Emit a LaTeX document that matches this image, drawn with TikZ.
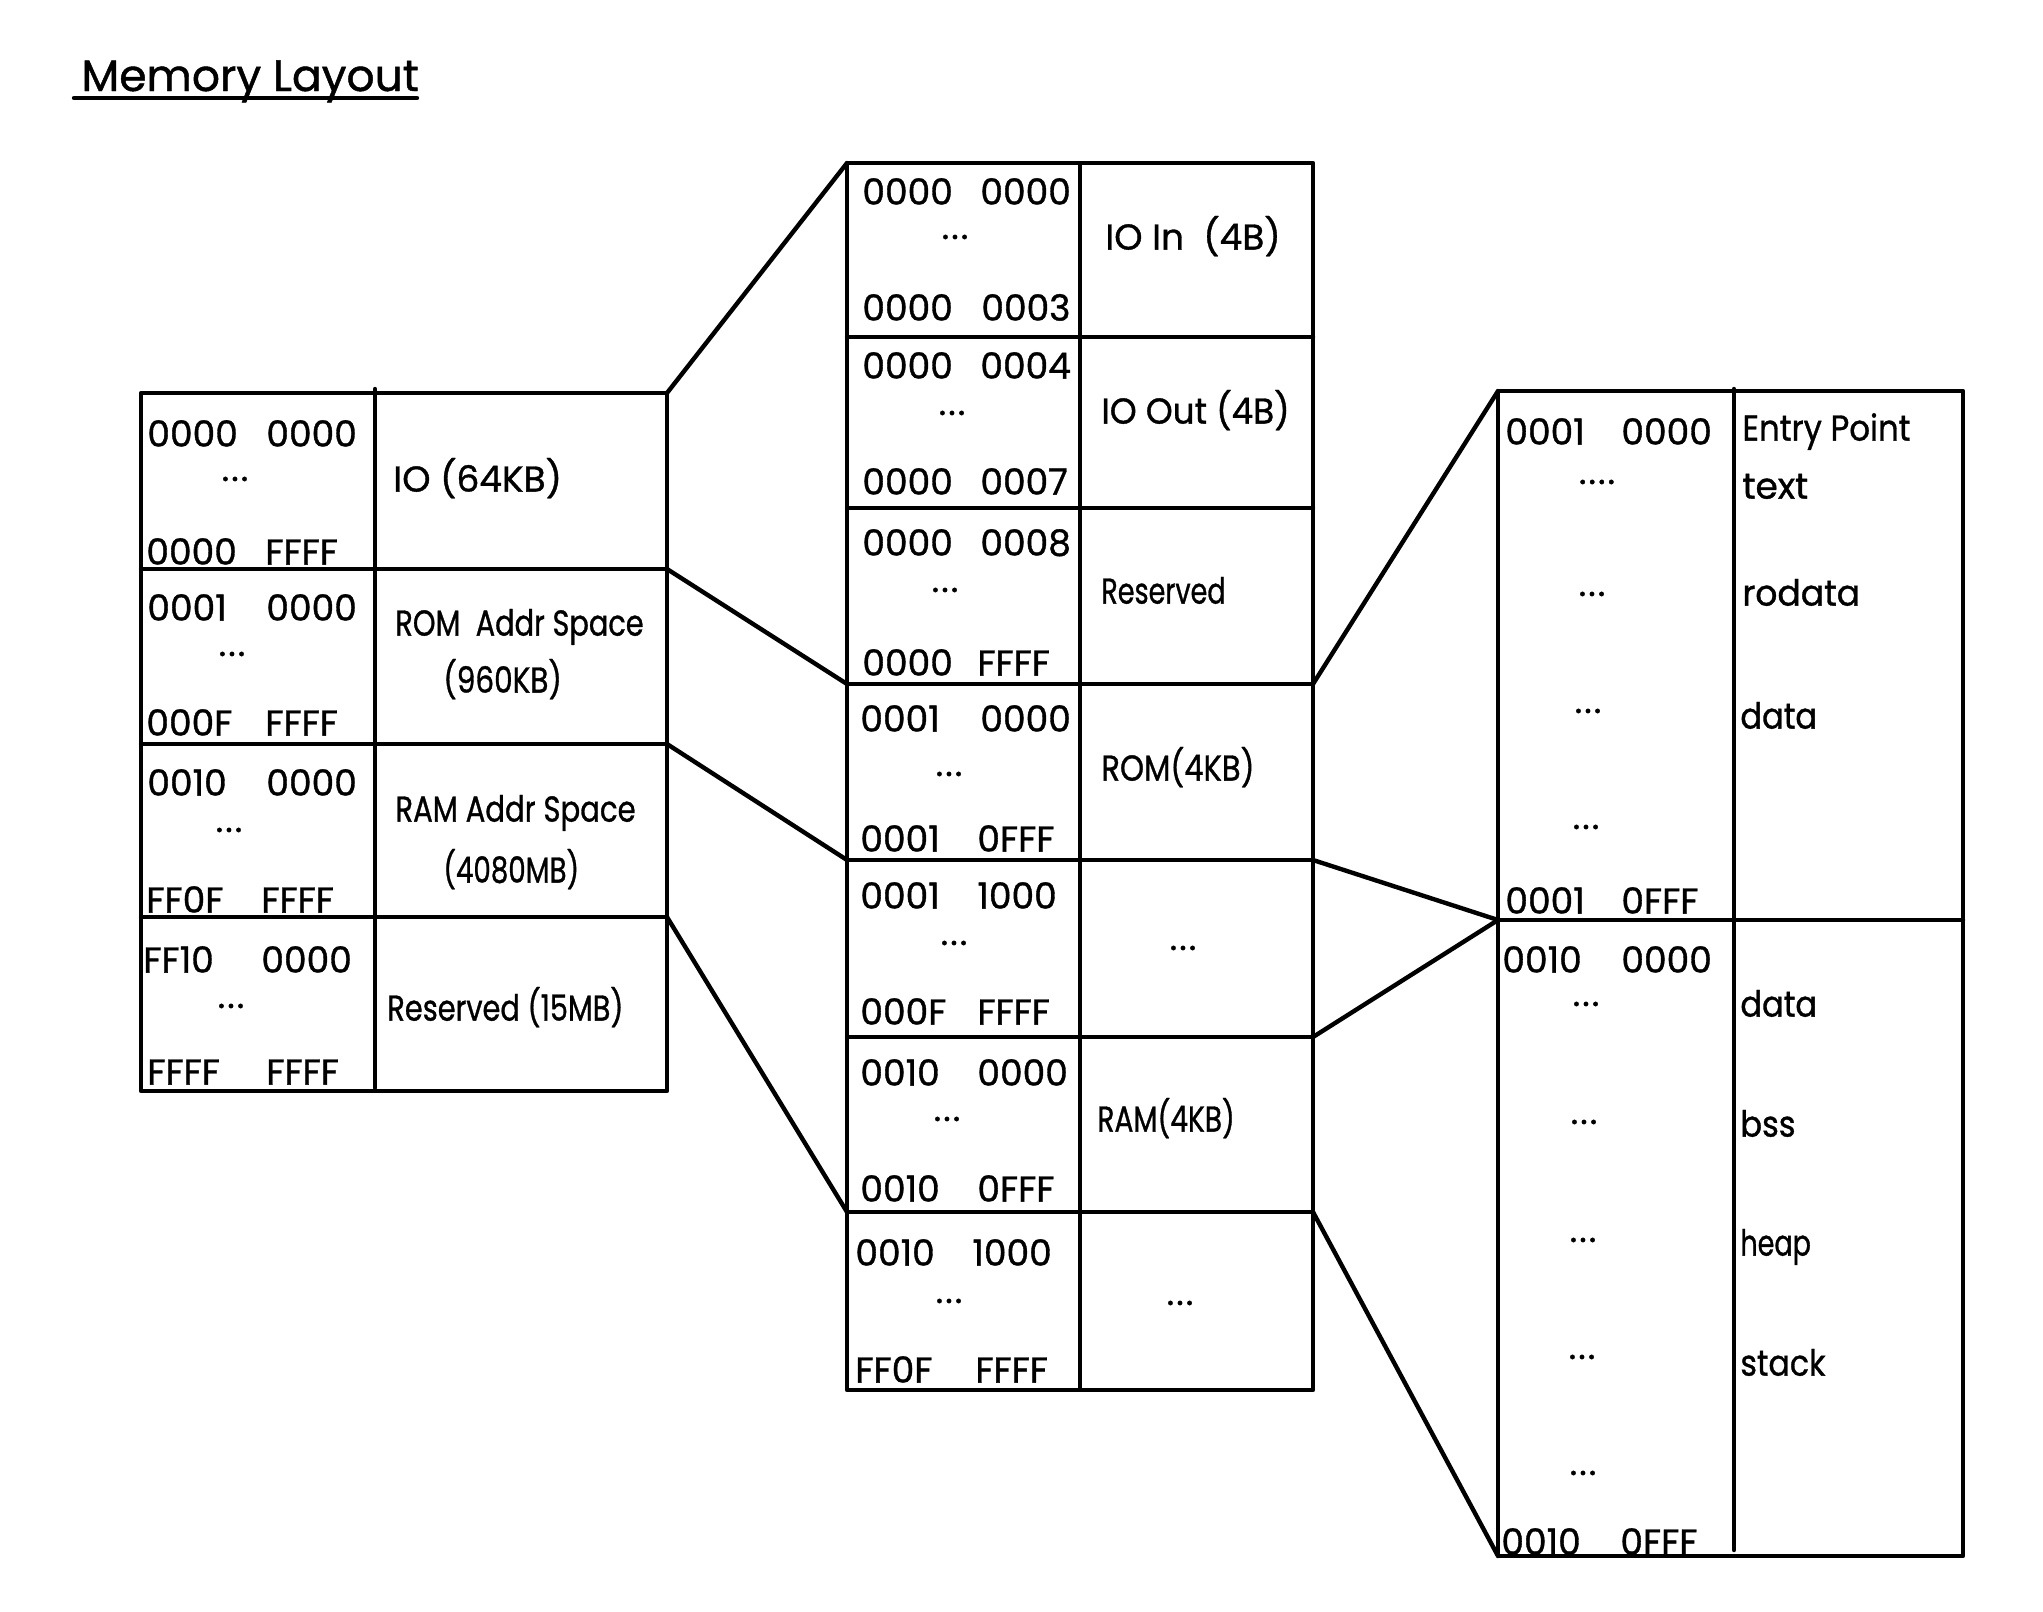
\documentclass[tikz,border=0pt]{standalone}
\usepackage{graphicx}
\usepackage{fontspec}
\setmainfont{Poppins}[FakeBold=1]
\tikzset{
  tl/.style={line width=2.2pt, line cap=round, line join=round},
  txt/.style={anchor=west, inner sep=0pt, font=\fontsize{18}{20}\selectfont, text height=0.7em, text depth=0pt, yshift=-3.3pt},
  addr/.style={txt},
  lbl/.style={txt},
  dots/.style={anchor=base, inner sep=0pt, font=\fontsize{18}{20}\selectfont},
}
\newcommand{\sx}[2]{\scalebox{#1}[1]{#2}}
\newcommand{\dd}{.\kern1pt.\kern1pt.}
\newcommand{\ddd}{.\kern1pt.\kern1pt.\kern1pt.}
\newcommand{\adr}[6]{%
  \node[addr] (#1-a) at (#2,#4) {#5};
  \node[addr] (#1-b) at (#3,#4) {#6};}
\begin{document}
\begin{tikzpicture}[x=0.5pt,y=-0.5pt]
\useasboundingbox (0,0) rectangle (2043,1611);

% title
\node[anchor=west, inner sep=0pt, font=\fontsize{22}{24}\selectfont, text height=0.7em, text depth=0pt] (title) at (81,84) {Memory Layout};
\coordinate (ulA) at (74,98);
\coordinate (ulB) at (417,98);
\draw[tl] (ulA) -- (ulB);

% ---------- left table
\coordinate (LTL) at (141,393);
\coordinate (LTR) at (667,393);
\coordinate (LBR) at (667,1091);
\coordinate (LR1) at (667,569);
\coordinate (LR2) at (667,744);
\coordinate (LR3) at (667,917);
\draw[tl] (LTL) rectangle (LBR);
\draw[tl] (375,389) -- (375,1088);
\draw[tl] (141,569) -- (LR1);
\draw[tl] (141,744) -- (LR2);
\draw[tl] (141,917) -- (LR3);

\adr{La1}{147}{266}{433}{0000}{0000}
\node[dots] (La-d) at (235,481) {\dd};
\adr{La2}{146}{265}{551}{0000}{FFFF}
\node[lbl] (La-l) at (393,478) {IO (64KB)};

\adr{Lb1}{147}{266}{607}{0001}{0000}
\node[dots] (Lb-d) at (232,656) {\dd};
\adr{Lb2}{146}{265}{722}{000F}{FFFF}
\node[lbl] (Lb-l) at (395,622) {\sx{0.8}{ROM\ \ Addr Space}};
\node[lbl] (Lb-l2) at (443,679) {\sx{0.82}{(960KB)}};

\adr{Lc1}{147}{266}{782}{0010}{0000}
\node[dots] (Lc-d) at (229,832) {\dd};
\adr{Lc2}{146}{261}{899}{FF0F}{FFFF}
\node[lbl] (Lc-l) at (395,808) {\sx{0.81}{RAM Addr Space}};
\node[lbl] (Lc-l2) at (443,869) {\sx{0.77}{(4080MB)}};

\adr{Ld1}{143}{261}{959}{FF10}{0000}
\node[dots] (Ld-d) at (231,1008) {\dd};
\adr{Ld2}{147}{266}{1071}{FFFF}{FFFF}
\node[lbl] (Ld-l) at (387,1007) {\sx{0.8}{Reserved (15MB)}};

% ---------- middle table
\coordinate (MTL) at (847,163);
\coordinate (MBR) at (1313,1390);
\coordinate (ML3) at (847,684);
\coordinate (ML4) at (847,860);
\coordinate (ML6) at (847,1212);
\coordinate (MR3) at (1313,684);
\coordinate (MR4) at (1313,860);
\coordinate (MR5) at (1313,1037);
\coordinate (MR6) at (1313,1212);
\draw[tl] (MTL) rectangle (MBR);
\draw[tl] (1080,165) -- (1080,1388);
\foreach \yy in {337,508,684,860,1037,1212} \draw[tl] (847,\yy) -- (1313,\yy);

\adr{Ma1}{862}{980}{191}{0000}{0000}
\node[dots] (Ma-d) at (955,239) {\dd};
\adr{Ma2}{862}{981}{307}{0000}{0003}
\node[lbl] (Ma-l) at (1105,236) {IO In\ \ (4B)};

\adr{Mb1}{862}{980}{365}{0000}{0004}
\node[dots] (Mb-d) at (952,415) {\dd};
\adr{Mb2}{862}{980}{481}{0000}{0007}
\node[lbl] (Mb-l) at (1101,410) {\sx{0.95}{IO Out (4B)}};

\adr{Mc1}{862}{980}{542}{0000}{0008}
\node[dots] (Mc-d) at (945,592) {\dd};
\adr{Mc2}{862}{977}{662}{0000}{FFFF}
\node[lbl] (Mc-l) at (1101,590) {\sx{0.75}{Reserved}};

\adr{Md1}{860}{980}{718}{0001}{0000}
\node[dots] (Md-d) at (949,776) {\dd};
\adr{Md2}{860}{977}{838}{0001}{0FFF}
\node[lbl] (Md-l) at (1101,767) {\sx{0.85}{ROM(4KB)}};

\adr{Me1}{860}{977}{895}{0001}{1000}
\node[dots] (Me-d) at (954,945) {\dd};
\adr{Me2}{860}{977}{1011}{000F}{FFFF}
\node[dots] (Me-l) at (1183,950) {\dd};

\adr{Mf1}{860}{977}{1072}{0010}{0000}
\node[dots] (Mf-d) at (947,1121) {\dd};
\adr{Mf2}{860}{977}{1188}{0010}{0FFF}
\node[lbl] (Mf-l) at (1097,1118) {\sx{0.78}{RAM(4KB)}};

\adr{Mg1}{855}{972}{1252}{0010}{1000}
\node[dots] (Mg-d) at (949,1303) {\dd};
\adr{Mg2}{855}{975}{1369}{FF0F}{FFFF}
\node[dots] (Mg-l) at (1180,1305) {\dd};

% ---------- right table
\coordinate (RTL) at (1498,391);
\coordinate (RBR) at (1963,1556);
\coordinate (RML) at (1498,920);
\coordinate (RBL) at (1498,1556);
\draw[tl] (RTL) rectangle (RBR);
\draw[tl] (1734,389) -- (1734,1550);
\draw[tl] (RML) -- (1963,920);

\adr{Ra1}{1505}{1621}{431}{0001}{0000}
\node[dots] (Ra-d1) at (1597,484) {\ddd};
\node[dots] (Ra-d2) at (1592,596) {\dd};
\node[dots] (Ra-d3) at (1588,713) {\dd};
\node[dots] (Ra-d4) at (1586,829) {\dd};
\adr{Ra2}{1505}{1621}{900}{0001}{0FFF}
\node[lbl] (Ra-l1) at (1742,427) {\sx{0.9}{Entry Point}};
\node[lbl] (Ra-l2) at (1742,485) {text};
\node[lbl] (Ra-l3) at (1742,592) {\sx{0.96}{rodata}};
\node[lbl] (Ra-l4) at (1740,715) {\sx{0.89}{data}};

\adr{Rb1}{1502}{1621}{959}{0010}{0000}
\node[dots] (Rb-d1) at (1586,1006) {\dd};
\node[dots] (Rb-d2) at (1584,1124) {\dd};
\node[dots] (Rb-d3) at (1583,1242) {\dd};
\node[dots] (Rb-d4) at (1582,1359) {\dd};
\node[dots] (Rb-d5) at (1583,1475) {\dd};
\adr{Rb2}{1501}{1620}{1541}{0010}{0FFF}
\node[lbl] (Rb-l1) at (1740,1003) {\sx{0.89}{data}};
\node[lbl] (Rb-l2) at (1740,1123) {\sx{0.89}{bss}};
\node[lbl] (Rb-l3) at (1740,1242) {\sx{0.75}{heap}};
\node[lbl] (Rb-l4) at (1740,1362) {\sx{0.88}{stack}};

% ---------- connectors
\draw[tl] (LTR) -- (MTL);
\draw[tl] (LR1) -- (ML3);
\draw[tl] (LR2) -- (ML4);
\draw[tl] (LR3) -- (ML6);
\draw[tl] (MR3) -- (RTL);
\draw[tl] (MR4) -- (RML);
\draw[tl] (MR5) -- (RML);
\draw[tl] (MR6) -- (RBL);
\end{tikzpicture}
\end{document}
